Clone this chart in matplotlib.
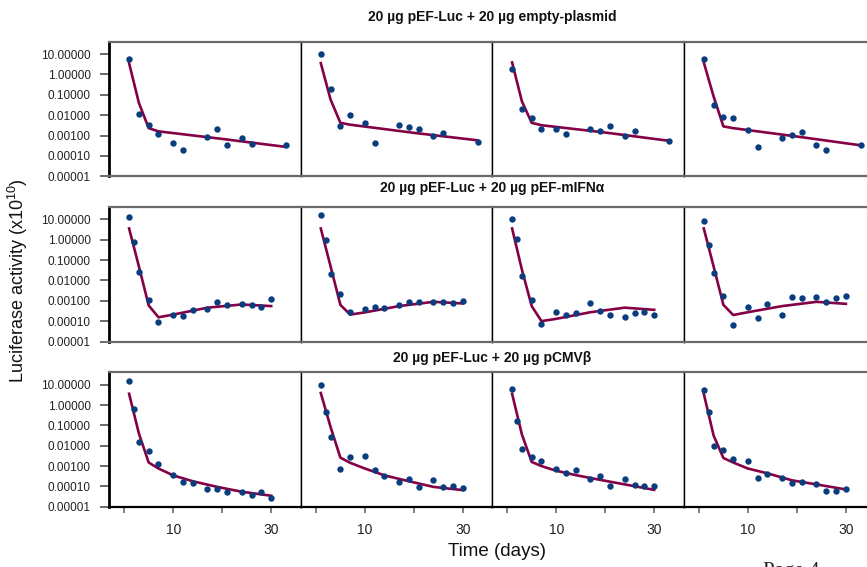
import numpy as np
import matplotlib
matplotlib.use('Agg')
import matplotlib.pyplot as plt
from matplotlib.ticker import FixedLocator, FixedFormatter

plt.rcParams['font.family'] = ['Liberation Sans', 'DejaVu Sans']
plt.rcParams['mathtext.fontset'] = 'custom'
plt.rcParams['mathtext.rm'] = 'Liberation Sans'

# titles of the three treatment groups (one row each)
titles = ['20 µg pEF-Luc + 20 µg empty-plasmid',
          '20 µg pEF-Luc + 20 µg pEF-mIFNα',
          '20 µg pEF-Luc + 20 µg pCMVβ']

# sampling days
days_r1 = [1, 3, 5, 7, 10, 12, 17, 19, 21, 24, 26, 33]
days_r23 = [1, 2, 3, 5, 7, 10, 12, 14, 17, 19, 21, 24, 26, 28, 30]

# measured luciferase activity, row 1 (empty plasmid), 4 animals
r1_a = [5.7, 1.15e-2, 3.2e-3, 1.2e-3, 4.4e-4, 2.0e-4, 8.1e-4, 2.1e-3, 3.5e-4, 7.2e-4, 3.9e-4, 3.5e-4]
r1_b = [10.2, 0.20, 2.95e-3, 1.05e-2, 4.2e-3, 4.4e-4, 3.2e-3, 2.75e-3, 2.2e-3, 1.0e-3, 1.4e-3, 5.0e-4]
r1_c = [1.76, 1.9e-2, 7.6e-3, 2.1e-3, 2.1e-3, 1.23e-3, 2.1e-3, 1.6e-3, 2.95e-3, 1.0e-3, 1.6e-3, 5.5e-4]
r1_d = [5.9, 3.2e-2, 8.1e-3, 7.6e-3, 1.8e-3, 2.6e-4, 7.6e-4, 1.1e-3, 1.45e-3, 3.5e-4, 2.0e-4, 3.5e-4]

# row 2 (pEF-mIFNa)
r2_a = [13.5, 0.76, 2.5e-2, 1.15e-3, 9.5e-5, 2.1e-4, 1.8e-4, 3.6e-4, 3.8e-4, 8.5e-4, 6.3e-4, 7.1e-4, 6.2e-4, 4.9e-4, 1.26e-3]
r2_b = [15.8, 1.0, 2.1e-2, 2.1e-3, 2.75e-4, 4.1e-4, 4.9e-4, 4.4e-4, 6.3e-4, 8.9e-4, 8.5e-4, 8.3e-4, 8.5e-4, 7.9e-4, 1.0e-3]
r2_c = [10.7, 1.05, 1.7e-2, 1.07e-3, 7.6e-5, 2.9e-4, 2.1e-4, 2.5e-4, 7.9e-4, 3.2e-4, 2.0e-4, 1.66e-4, 2.6e-4, 2.75e-4, 2.1e-4]
r2_d = [7.9, 0.56, 2.4e-2, 1.8e-3, 6.3e-5, 4.9e-4, 1.4e-4, 6.6e-4, 2.0e-4, 1.6e-3, 1.3e-3, 1.6e-3, 8.5e-4, 1.3e-3, 1.74e-3]

# row 3 (pCMVb)
r3_a = [14.5, 0.62, 1.5e-2, 5.8e-3, 1.23e-3, 3.5e-4, 1.6e-4, 1.4e-4, 7.1e-5, 7.1e-5, 5.2e-5, 5.5e-5, 3.7e-5, 5.1e-5, 2.7e-5]
r3_b = [10.0, 0.44, 2.8e-2, 7.6e-4, 2.95e-3, 3.2e-3, 6.5e-4, 3.1e-4, 1.7e-4, 2.3e-4, 9.5e-5, 2.1e-4, 9.5e-5, 1.07e-4, 8.5e-5]
r3_c = [6.3, 0.174, 7.2e-3, 2.95e-3, 1.86e-3, 7.2e-4, 4.5e-4, 6.3e-4, 2.2e-4, 3.3e-4, 1.07e-4, 2.3e-4, 1.12e-4, 1.02e-4, 1.07e-4]
r3_d = [5.2, 0.46, 9.5e-3, 6.0e-3, 2.2e-3, 1.86e-3, 2.75e-4, 3.9e-4, 2.75e-4, 1.5e-4, 1.6e-4, 1.35e-4, 5.9e-5, 6.3e-5, 7.6e-5]

# fitted model curves (read at a few days)
fit_days_r1 = [1, 3, 5, 7, 20, 33]
f1_a = [3.6, 0.04, 2.3e-3, 1.6e-3, 6.8e-4, 2.75e-4]
f1_b = [3.6, 0.058, 4.2e-3, 3.4e-3, 1.35e-3, 5.8e-4]
f1_c = [3.9, 0.048, 4.2e-3, 3.2e-3, 1.4e-3, 5.5e-4]
f1_d = [3.9, 0.083, 2.8e-3, 2.3e-3, 8.9e-4, 3.3e-4]

fit_days_r2 = [1, 3, 5, 7, 10, 17, 24, 30]
f2_a = [3.6, 0.049, 5.9e-4, 1.55e-4, 2.1e-4, 4.6e-4, 6.6e-4, 5.5e-4]
f2_b = [3.6, 0.049, 6.3e-4, 2.1e-4, 2.7e-4, 5.5e-4, 8.9e-4, 7.4e-4]
f2_c = [3.6, 0.034, 5.5e-4, 1.0e-4, 1.3e-4, 2.75e-4, 4.6e-4, 3.6e-4]
f2_d = [3.6, 0.049, 6.3e-4, 2.0e-4, 2.75e-4, 5.5e-4, 8.9e-4, 7.1e-4]

fit_days_r3 = [1, 3, 5, 7, 10, 14, 19, 24, 30]
f3_a = [3.6, 0.04, 1.5e-3, 7.6e-4, 3.5e-4, 1.8e-4, 9.5e-5, 5.5e-5, 3.5e-5]
f3_b = [3.9, 0.083, 2.6e-3, 1.45e-3, 7.6e-4, 3.5e-4, 1.8e-4, 9.5e-5, 6.6e-5]
f3_c = [3.6, 0.036, 1.6e-3, 1.0e-3, 5.9e-4, 3.6e-4, 2.1e-4, 1.26e-4, 6.8e-5]
f3_d = [3.6, 0.032, 2.5e-3, 1.5e-3, 7.6e-4, 4.4e-4, 2.0e-4, 1.26e-4, 7.1e-5]

ytick_vals = [10, 1, 0.1, 0.01, 0.001, 0.0001, 0.00001]
ytick_labels = ['10.00000', '1.00000', '0.10000', '0.01000', '0.00100', '0.00010', '0.00001']
xtick_vals = [0, 10, 20, 30]
xtick_labels = ['', '10', '', '30']

rows = [
    (days_r1, [r1_a, r1_b, r1_c, r1_d], fit_days_r1, [f1_a, f1_b, f1_c, f1_d]),
    (days_r23, [r2_a, r2_b, r2_c, r2_d], fit_days_r2, [f2_a, f2_b, f2_c, f2_d]),
    (days_r23, [r3_a, r3_b, r3_c, r3_d], fit_days_r3, [f3_a, f3_b, f3_c, f3_d]),
]

W, H = 867, 567
fig = plt.figure(figsize=(W / 100, H / 100), dpi=100)

# panel layout in pixels
col_left = [109, 300.7, 492, 683.7]
col_w = 191.6
row_top = [41.7, 207, 372.3]
row_h = 134.5
title_y = [17.3, 188, 358.3]

dot_col = '#0a3d7d'
line_col = '#850045'
gray = '#6a6a6a'

for i, (days, series, fdays, fits) in enumerate(rows):
    for j in range(4):
        ax = fig.add_axes([col_left[j] / W, 1 - (row_top[i] + row_h) / H, col_w / W, row_h / H])
        ax.plot(fdays, fits[j], color=line_col, lw=1.9, zorder=2)
        ax.plot(days, series[j], 'o', color=dot_col, ms=4.6, mec='none', zorder=3)
        ax.set_yscale('log')
        ax.set_ylim(1e-5, 10 ** 1.61)
        ax.set_xlim(-3.1, 36)
        ax.minorticks_off()
        for s in ['top', 'bottom']:
            ax.spines[s].set_color(gray)
            ax.spines[s].set_linewidth(1.6)
        for s in ['left', 'right']:
            ax.spines[s].set_color('black')
            ax.spines[s].set_linewidth(1.0)
        if j == 0:
            ax.spines['left'].set_linewidth(2.0)
            ax.yaxis.set_major_locator(FixedLocator(ytick_vals))
            ax.yaxis.set_major_formatter(FixedFormatter(ytick_labels))
            ax.tick_params(axis='y', length=6.5, width=1.4, color=gray, pad=6.5,
                           labelsize=8.5, labelcolor='#222222')
        else:
            ax.set_yticks([])
        if i == 2:
            ax.spines['bottom'].set_color('black')
            ax.spines['bottom'].set_linewidth(1.6)
            ax.xaxis.set_major_locator(FixedLocator(xtick_vals))
            ax.xaxis.set_major_formatter(FixedFormatter(xtick_labels))
            ax.tick_params(axis='x', length=4, width=1.2, color=gray, pad=7.5,
                           labelsize=10, labelcolor='#222222')
        else:
            ax.set_xticks([])
    fig.text(492 / W, 1 - title_y[i] / H, titles[i], ha='center', va='center',
             fontsize=10, fontweight='bold', color='#111111')

fig.text(18 / W, 1 - 281 / H, r'Luciferase activity (x10$^{\mathregular{10}}$)',
         rotation=90, ha='center', va='center', fontsize=13, color='#111111')
fig.text(497 / W, 1 - 552 / H, 'Time (days)', ha='center', va='center',
         fontsize=13.5, color='#111111')
# page footer, mostly cut off by the page edge (as in the scanned page)
fig.text(763 / W, 1 - 562 / H, 'Page 4', ha='left', va='top', fontsize=15,
         family='Liberation Serif', color='#222222')

fig.savefig('out.png', dpi=100)
